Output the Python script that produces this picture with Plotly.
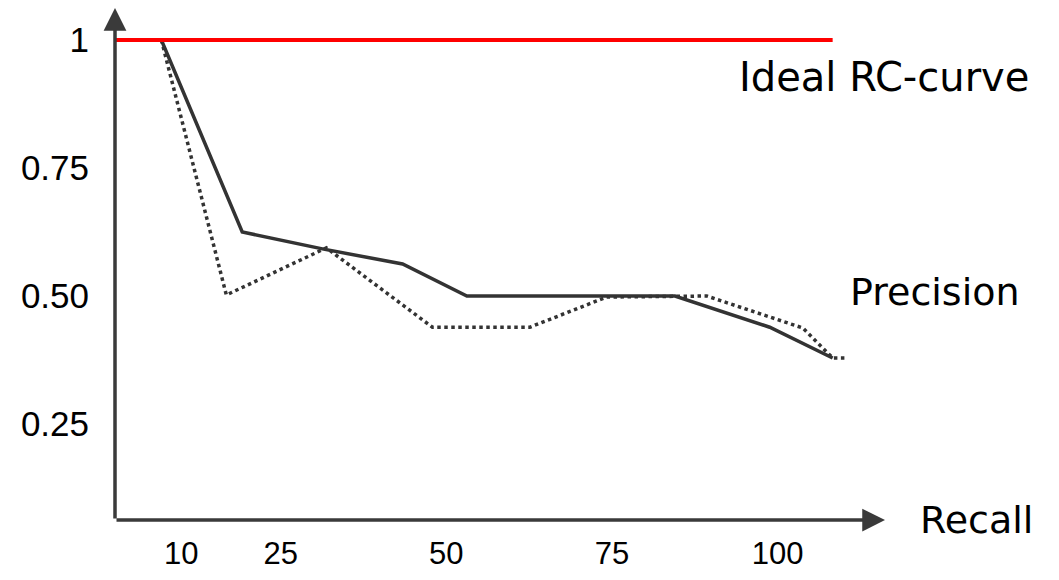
import plotly.graph_objects as go

# Data
recall_solid = [0.0, 7.0, 19.2, 31.3, 43.4, 53.1, 84.5, 98.8, 108.3]
precision_solid = [1.0, 1.0, 0.625, 0.592, 0.5625, 0.5, 0.5, 0.439, 0.379]

recall_dotted = [7.0, 16.8, 31.9, 47.9, 62.6, 74.2, 89.3, 103.8, 108.3, 110.6]
precision_dotted = [1.0, 0.502, 0.594, 0.439, 0.439, 0.498, 0.5, 0.4375, 0.379, 0.379]

recall_ideal = [0.0, 108.3]
precision_ideal = [1.0, 1.0]

x_ticks = [10, 25, 50, 75, 100]
x_tick_text = ["10", "25", "50", "75", "100"]
y_ticks = [1, 0.75, 0.5, 0.25]
y_tick_text = ["1", "0.75", "0.50", "0.25"]

X_MIN, X_MAX = 0.0, 116.2
Y_MIN, Y_MAX = 0.0625, 1.0625

AXIS_COLOR = "#3a3a3a"
LINE_COLOR = "#333333"

# The page body has an 8px default margin; lay the figure out so that the
# plot region lands at the wanted place on screen.
OFF = 8
W, H = 1059 - OFF, 580 - OFF
ML, MT = 115 - OFF, 8 - OFF
PW, PH = 770, 512
MR = W - ML - PW
MB = H - MT - PH


def px(sx):
    return (sx - OFF - ML) / PW


def py(sy):
    return 1 - (sy - OFF - MT) / PH


fig = go.Figure()
fig.add_trace(go.Scatter(x=recall_solid, y=precision_solid, mode="lines",
                         line=dict(color=LINE_COLOR, width=3.5), hoverinfo="skip"))
fig.add_trace(go.Scatter(x=recall_dotted, y=precision_dotted, mode="lines",
                         line=dict(color=LINE_COLOR, width=3.5, dash="dot"), hoverinfo="skip"))
fig.add_trace(go.Scatter(x=recall_ideal, y=precision_ideal, mode="lines",
                         line=dict(color="#ff0000", width=4), hoverinfo="skip"))

# axis arrows
fig.add_annotation(x=X_MAX, y=Y_MIN, ax=X_MIN, ay=Y_MIN, xref="x", yref="y",
                   axref="x", ayref="y", showarrow=True, arrowhead=2, arrowsize=1.3,
                   arrowwidth=3.5, arrowcolor=AXIS_COLOR, text="")
fig.add_annotation(x=X_MIN, y=Y_MAX, ax=X_MIN, ay=Y_MIN, xref="x", yref="y",
                   axref="x", ayref="y", showarrow=True, arrowhead=2, arrowsize=1.3,
                   arrowwidth=3.5, arrowcolor=AXIS_COLOR, text="")

label_font = "DejaVu Sans"
fig.add_annotation(x=px(884), y=py(77), xref="paper", yref="paper", text="Ideal RC-curve",
                   showarrow=False, xanchor="center", yanchor="middle",
                   font=dict(family=label_font, size=40, color="black"))
fig.add_annotation(x=px(935), y=py(292), xref="paper", yref="paper", text="Precision",
                   showarrow=False, xanchor="center", yanchor="middle",
                   font=dict(family=label_font, size=38, color="black"))
fig.add_annotation(x=px(976), y=py(520), xref="paper", yref="paper", text="Recall",
                   showarrow=False, xanchor="center", yanchor="middle",
                   font=dict(family=label_font, size=38, color="black"))

fig.update_layout(
    width=W, height=H,
    margin=dict(l=ML, r=MR, t=MT, b=MB, pad=0),
    paper_bgcolor="white", plot_bgcolor="white",
    showlegend=False,
    xaxis=dict(range=[X_MIN, X_MAX], tickvals=x_ticks, ticktext=x_tick_text,
               showgrid=False, zeroline=False, showline=False, ticks="",
               ticklabelstandoff=12, automargin=False,
               tickfont=dict(family="Liberation Sans", size=31, color="black")),
    yaxis=dict(range=[Y_MIN, Y_MAX], tickvals=y_ticks, ticktext=y_tick_text,
               showgrid=False, zeroline=False, showline=False, ticks="",
               ticklabelstandoff=25, automargin=False,
               tickfont=dict(family="Liberation Sans", size=35, color="black")),
)

fig.write_html("out.html")
